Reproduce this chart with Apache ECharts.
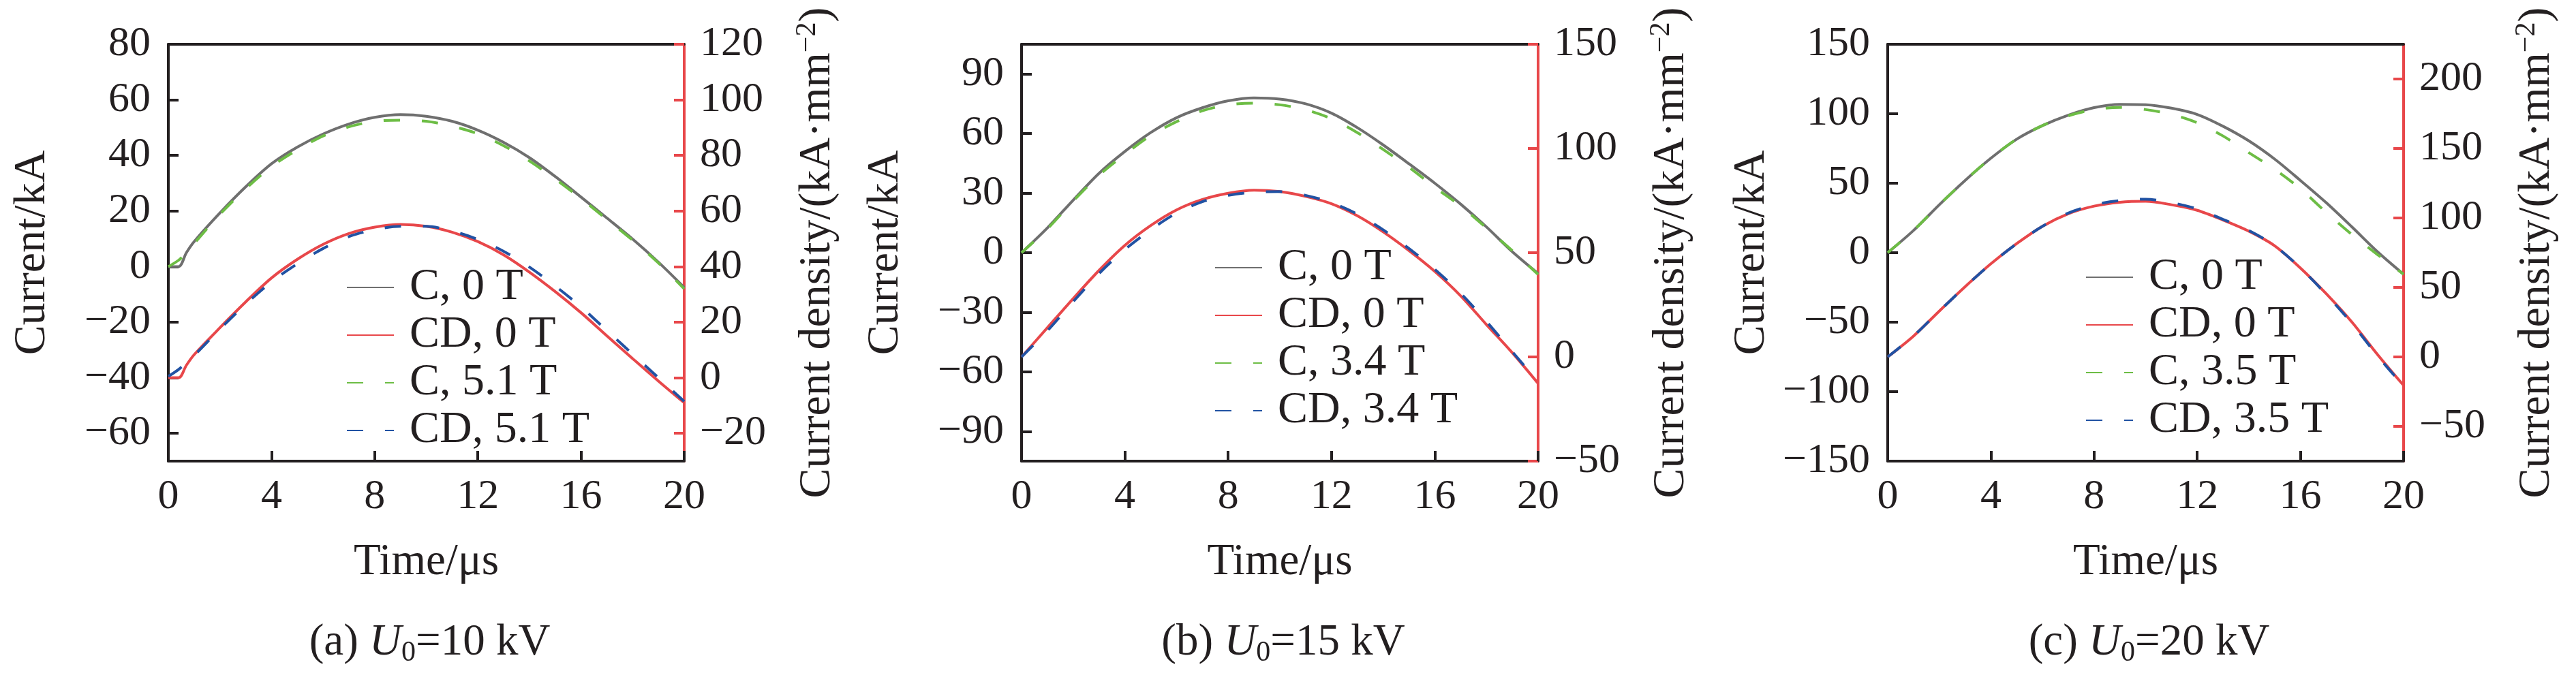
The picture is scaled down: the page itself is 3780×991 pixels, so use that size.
<!DOCTYPE html>
<html>
<head>
<meta charset="utf-8">
<script src="https://cdn.jsdelivr.net/npm/echarts@6/dist/echarts.min.js"></script>
<style>
html,body{margin:0;padding:0;background:#fff}
#chart{width:3780px;height:991px}
</style>
</head>
<body>
<div id="chart"></div>
<script>
// time axes (µs)
const timeA = [0, 0.4, 0.7, 1, 2, 3, 4, 5, 6, 7, 8, 9, 10, 11, 12, 13, 14, 15, 16, 17, 18, 19, 20];
const timeBC = [0, 1, 2, 3, 4, 5, 6, 7, 8, 9, 10, 11, 12, 13, 14, 15, 16, 17, 18, 19, 20];

// (a) U0 = 10 kV : current (kA) and current density (kA/mm2)
const cA0    = [0, 0, 5, 9, 19.3, 28.7, 37, 43, 47.7, 51.3, 53.7, 54.7, 54.1, 52.3, 49.1, 44.7, 39.2, 32.4, 25, 17.5, 9.9, 1.6, -7.5];
const cA51   = [0, 2.3, 5, 8.3, 18.8, 28, 36, 42, 47, 50.3, 52.3, 52.7, 52.3, 50.5, 47.8, 43.5, 38, 31.5, 24.5, 17, 9.5, 1.3, -8];
const cdA0   = [0, 0, 4.5, 8.3, 18, 27.3, 35.9, 42.6, 48, 51.9, 54.2, 55.2, 54.5, 52.4, 49, 44.2, 38, 31, 23.4, 15.1, 6.9, -1.2, -9];
const cdA51  = [0.5, 3, 5.5, 8, 17.5, 26.5, 34.5, 41, 46.5, 50.8, 53.3, 54.5, 54.5, 52.8, 49.8, 45.5, 39.8, 33, 25.5, 17, 8.5, 0, -8.5];

// (b) U0 = 15 kV
const cB0    = [0, 12.5, 26.5, 40, 51, 60.5, 68, 73, 76.5, 78, 77.4, 75, 70.3, 63, 54.3, 44.8, 35, 24.5, 13, 0.5, -10.5];
const cB34   = [0, 12, 26, 39, 49.5, 59, 66, 71.5, 74.5, 75.3, 74.5, 72, 67.5, 60.5, 52, 43, 33, 23.5, 12.5, 1, -11];
const cdB0   = [0, 14, 28, 41.5, 53.5, 63, 70.5, 75.5, 78.5, 80, 79.3, 77, 73.5, 67.7, 60, 51, 41, 29.3, 15.5, 2, -12.7];
const cdB34  = [0, 12.5, 26.5, 40, 51.5, 61, 69, 74.5, 77.5, 79, 79.3, 77.5, 74, 68.5, 61, 52, 42, 30.5, 17, 2.5, -12];

// (c) U0 = 20 kV
const cC0    = [0, 16, 34.5, 52, 68, 81.7, 91.5, 99, 104.4, 106.8, 106.5, 104, 99.5, 91, 80.5, 67.4, 52, 36, 18.5, 0.5, -15.5];
const cC35   = [0, 16, 34.5, 52, 68, 81.7, 91.5, 98.5, 103, 104.5, 103, 99.5, 93.5, 84, 72, 60, 46, 29, 13, -1.5, -15.5];
const cdC0   = [0, 15, 33, 50.5, 67, 81.5, 94, 103, 108.5, 111.3, 112, 109.5, 105.5, 98.5, 90.5, 80, 64, 45.5, 25, 1.5, -20.5];
const cdC35  = [0, 15, 33, 50.5, 67, 81.5, 94, 103.5, 109.5, 112.5, 113.5, 111, 106.5, 99, 91, 80, 64, 45, 24, 0.5, -21];

// tick labels
const timeTicks = [0, 4, 8, 12, 16, 20];
const leftTicksA  = [-60, -40, -20, 0, 20, 40, 60, 80];
const rightTicksA = [-20, 0, 20, 40, 60, 80, 100, 120];
const leftTicksB  = [-90, -60, -30, 0, 30, 60, 90];
const rightTicksB = [-50, 0, 50, 100, 150];
const leftTicksC  = [-150, -100, -50, 0, 50, 100, 150];
const rightTicksC = [-50, 0, 50, 100, 150, 200];

const captions = ['(a) ', '(b) ', '(c) '];
const voltages = ['=10 kV', '=15 kV', '=20 kV'];
const fields = ['5.1', '3.4', '3.5'];

const FONT = '"Liberation Serif", "Times New Roman", serif';
const INK = '#231f20';
const GRAY = '#6f6f6f', RED = '#e8474a', GREEN = '#6dbd45', BLUE = '#2152a3';

const minus = v => (v < 0 ? '\u2212' + Math.abs(v) : String(v));
const pairs = (t, v) => t.map((x, i) => [x, v[i]]);

const panels = [
  {left: 247, right: 1004, lmin: -70, lmax: 80, rmin: -30, rmax: 120, lt: leftTicksA, rt: rightTicksA,
   time: timeA, data: [cA0, cdA0, cA51, cdA51], legX: 503, legY: 384},
  {left: 1499, right: 2257, lmin: -105, lmax: 105, rmin: -50, rmax: 150, lt: leftTicksB, rt: rightTicksB,
   time: timeBC, data: [cB0, cdB0, cB34, cdB34], legX: 1777, legY: 355},
  {left: 2770, right: 3527, lmin: -150, lmax: 150, rmin: -75, rmax: 225, lt: leftTicksC, rt: rightTicksC,
   time: timeBC, data: [cC0, cdC0, cC35, cdC35], legX: 3055, legY: 369}
];

const option = {
  backgroundColor: '#fff',
  animation: false,
  grid: [], xAxis: [], yAxis: [], series: [], legend: [], title: []
};

panels.forEach((p, i) => {
  option.grid.push({left: p.left, right: 3780 - p.right, top: 65, bottom: 991 - 677});
  option.xAxis.push({
    type: 'value', gridIndex: i, min: 0, max: 20, interval: 4,
    name: 'Time/\u03bcs', nameLocation: 'middle', nameGap: 116,
    nameTextStyle: {fontFamily: FONT, fontSize: 65, color: INK},
    axisLine: {onZero: false, lineStyle: {color: INK, width: 4}},
    axisTick: {inside: true, length: 15, customValues: timeTicks, lineStyle: {color: INK, width: 4}},
    axisLabel: {fontFamily: FONT, fontSize: 62, color: INK, margin: 22, customValues: timeTicks},
    splitLine: {show: false}
  });
  option.xAxis.push({
    type: 'value', gridIndex: i, position: 'top', min: 0, max: 20,
    axisLine: {onZero: false, lineStyle: {color: INK, width: 4}},
    axisTick: {show: false}, axisLabel: {show: false}, splitLine: {show: false}
  });
  option.yAxis.push({
    type: 'value', gridIndex: i, position: 'left', min: p.lmin, max: p.lmax,
    name: 'Current/kA', nameLocation: 'middle', nameGap: 166,
    nameTextStyle: {fontFamily: FONT, fontSize: 66, color: INK},
    axisLine: {onZero: false, lineStyle: {color: INK, width: 4}},
    axisTick: {inside: true, length: 15, customValues: p.lt, lineStyle: {color: INK, width: 4}},
    axisLabel: {fontFamily: FONT, fontSize: 62, color: INK, margin: 26, customValues: p.lt, formatter: minus},
    splitLine: {show: false}
  });
  option.yAxis.push({
    type: 'value', gridIndex: i, position: 'right', min: p.rmin, max: p.rmax,
    name: 'Current density/(kA\u00b7mm{sup|\u22122})', nameLocation: 'middle', nameGap: 160,
    nameTextStyle: {fontFamily: FONT, fontSize: 66, color: INK,
      rich: {sup: {fontFamily: FONT, fontSize: 42, color: INK, padding: [0, 0, 30, 0]}}},
    axisLine: {onZero: false, lineStyle: {color: RED, width: 4}},
    axisTick: {inside: true, length: 15, customValues: p.rt, lineStyle: {color: RED, width: 4}},
    axisLabel: {fontFamily: FONT, fontSize: 62, color: INK, margin: 23, customValues: p.rt, formatter: minus},
    splitLine: {show: false}
  });

  const names = ['C, 0 T', 'CD, 0 T', 'C, ' + fields[i] + ' T', 'CD, ' + fields[i] + ' T'];
  const colors = [GRAY, RED, GREEN, BLUE];
  names.forEach((n, k) => {
    option.series.push({
      type: 'line', name: n, xAxisIndex: 2 * i, yAxisIndex: 2 * i + (k % 2),
      data: pairs(p.time, p.data[k]),
      symbol: 'none', showSymbol: false, smooth: 0.3, z: k < 2 ? 2 : 3,
      lineStyle: {color: colors[k], width: 4, type: k < 2 ? 'solid' : [24, 32]},
      itemStyle: {color: colors[k]}
    });
  });
  option.legend.push({
    orient: 'vertical', left: p.legX, top: p.legY, itemWidth: 69, itemHeight: 14, itemGap: 4,
    data: names, selectedMode: false,
    itemStyle: {opacity: 0},
    textStyle: {fontFamily: FONT, fontSize: 66, color: INK, padding: [0, 0, 0, 18]}
  });
  option.title.push({
    left: (p.left + p.right) / 2, top: 903, textAlign: 'center',
    text: captions[i] + '{i|U}{sub|0}' + voltages[i],
    textStyle: {fontFamily: FONT, fontSize: 65, fontWeight: 'normal', color: INK,
      rich: {
        i: {fontFamily: FONT, fontSize: 65, fontStyle: 'italic', color: INK},
        sub: {fontFamily: FONT, fontSize: 42, color: INK, padding: [30, 0, 0, 0]}
      }}
  });
});

const chart = echarts.init(document.getElementById('chart'));
chart.setOption(option);
</script>
</body>
</html>
